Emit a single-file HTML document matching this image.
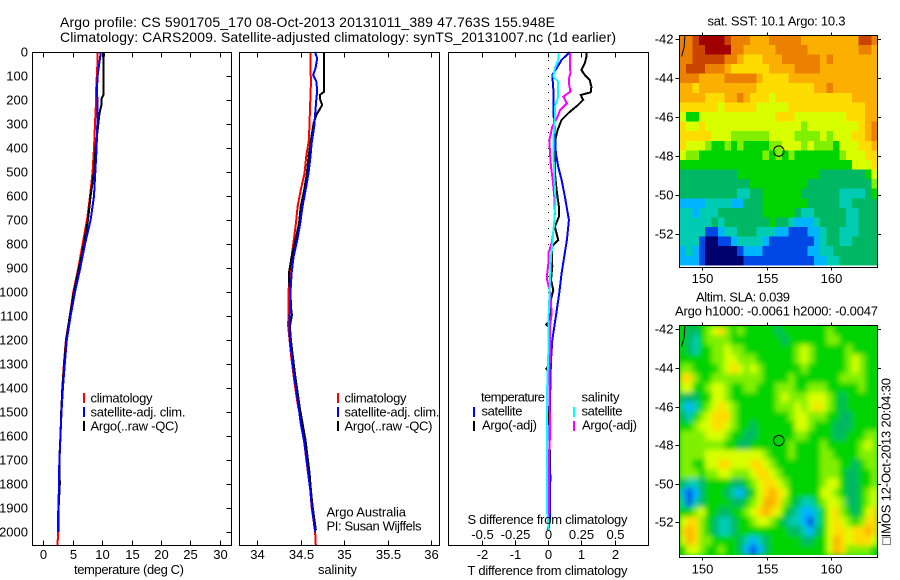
<!DOCTYPE html>
<html lang="en">
<head>
<meta charset="utf-8">
<title>Argo profile CS 5901705_170</title>
<style>
html,body{margin:0;padding:0;background:#fff;}
svg{display:block;}
text{font-family:"Liberation Sans",sans-serif;font-size:13px;fill:#000;}
.axis{fill:none;stroke:#000;stroke-width:1;shape-rendering:crispEdges;}
.tick{stroke:#000;stroke-width:1;shape-rendering:crispEdges;}
.line{fill:none;stroke-width:2;shape-rendering:crispEdges;stroke-linejoin:miter;}
.key{stroke-width:2;shape-rendering:crispEdges;}
</style>
</head>
<body>
<svg id="fig" xmlns="http://www.w3.org/2000/svg" width="900" height="580" viewBox="0 0 900 580">
  <rect x="0" y="0" width="900" height="580" fill="#fff"/>
  <defs>
    <clipPath id="clip-sst"><rect x="679.5" y="35.5" width="198" height="230"/></clipPath>
    <clipPath id="clip-sla"><rect x="679.5" y="326" width="198" height="229"/></clipPath>
    <filter id="smooth" x="-5%" y="-5%" width="110%" height="110%"><feGaussianBlur stdDeviation="2.6"/></filter>
  </defs>

  <text x="60" y="27" textLength="495" lengthAdjust="spacing" style="font-size:14px">Argo profile: CS 5901705_170 08-Oct-2013 20131011_389 47.763S 155.948E</text>
  <text x="60" y="42" textLength="556" lengthAdjust="spacing" style="font-size:14px">Climatology: CARS2009. Satellite-adjusted climatology: synTS_20131007.nc (1d earlier)</text>

  <g id="maps"></g>
  <g id="profiles"></g>
  <g id="axes"></g>

  <text x="74" y="574" textLength="110" lengthAdjust="spacing">temperature (deg C)</text>
  <text x="318" y="574" textLength="39" lengthAdjust="spacing">salinity</text>
  <text x="467.5" y="575" textLength="160" lengthAdjust="spacing">T difference from climatology</text>
  <text x="467.5" y="524" textLength="160" lengthAdjust="spacing">S difference from climatology</text>

  <g>
    <line class="key" x1="84" y1="393" x2="84" y2="403" stroke="#f00"/>
    <line class="key" x1="84" y1="407" x2="84" y2="417" stroke="#00f"/>
    <line class="key" x1="84" y1="421" x2="84" y2="431" stroke="#000"/>
    <text x="90.5" y="402.5" textLength="62" lengthAdjust="spacing">climatology</text>
    <text x="90.5" y="416.5" textLength="95" lengthAdjust="spacing">satellite-adj. clim.</text>
    <text x="90.5" y="430.5" textLength="88" lengthAdjust="spacing">Argo(..raw -QC)</text>
  </g>
  <g>
    <line class="key" x1="338" y1="393" x2="338" y2="403" stroke="#f00"/>
    <line class="key" x1="338" y1="407" x2="338" y2="417" stroke="#00f"/>
    <line class="key" x1="338" y1="421" x2="338" y2="431" stroke="#000"/>
    <text x="344.5" y="402.5" textLength="62" lengthAdjust="spacing">climatology</text>
    <text x="344.5" y="416.5" textLength="95" lengthAdjust="spacing">satellite-adj. clim.</text>
    <text x="344.5" y="430.5" textLength="88" lengthAdjust="spacing">Argo(..raw -QC)</text>
    <text x="326.5" y="516.5" textLength="79.5" lengthAdjust="spacing">Argo Australia</text>
    <text x="326.5" y="530.5" textLength="95" lengthAdjust="spacing">PI: Susan Wijffels</text>
  </g>
  <g>
    <text x="481" y="401.5" textLength="64" lengthAdjust="spacing">temperature</text>
    <text x="481.5" y="415.5" textLength="41" lengthAdjust="spacing">satellite</text>
    <text x="482" y="429.5" textLength="55" lengthAdjust="spacing">Argo(-adj)</text>
    <line class="key" x1="474" y1="407" x2="474" y2="417" stroke="#00f"/>
    <line class="key" x1="474" y1="421" x2="474" y2="431" stroke="#000"/>
    <text x="581.5" y="401.5" textLength="38" lengthAdjust="spacing">salinity</text>
    <text x="581.5" y="415.5" textLength="41" lengthAdjust="spacing">satellite</text>
    <text x="582" y="429.5" textLength="55" lengthAdjust="spacing">Argo(-adj)</text>
    <line class="key" x1="574" y1="407" x2="574" y2="417" stroke="#0ff"/>
    <line class="key" x1="574" y1="421" x2="574" y2="431" stroke="#f0f"/>
  </g>

  <text x="707.5" y="25.5" textLength="138" lengthAdjust="spacing">sat. SST: 10.1 Argo: 10.3</text>
  <text x="696" y="301.5" textLength="94" lengthAdjust="spacing">Altim. SLA: 0.039</text>
  <text x="675" y="315.5" textLength="203" lengthAdjust="spacing">Argo h1000: -0.0061 h2000: -0.0047</text>
  <text transform="translate(890.5,545) rotate(-90)" x="0" y="0" textLength="167" lengthAdjust="spacing">&#9633;IMOS 12-Oct-2013 20:04:30</text>
</svg>

<script>
// ---------- Profile data ----------
const tempDepths = [0,25,50,100,150,180,195,220,245,270,300,400,500,600,700,800,900,1000,1100,1200,1300,1400,1500,1600,1700,1800,1900,2000,2054];
const tempClim = [9.24,9.22,9.2,9.1,9.0,8.98,8.96,8.95,8.9,8.85,8.79,8.62,8.39,7.94,7.43,6.69,5.95,5.1,4.5,3.85,3.5,3.23,3.06,2.9,2.72,2.7,2.55,2.5,2.44];
const tempSat = [9.8,9.65,9.5,9.24,9.13,9.15,9.2,9.24,9.22,9.2,9.18,9.07,8.84,8.62,8.05,7.09,6.29,5.39,4.65,4.0,3.65,3.33,3.1,2.92,2.72,2.68,2.55,2.48,null];
const tempArgo = [10.37,10.26,10.22,10.2,10.2,10.2,9.9,9.9,9.64,9.47,9.35,8.9,8.62,8.05,7.6,6.9,6.07,5.2,4.5,3.9,3.55,3.25,3.05,2.92,2.75,2.8,2.6,2.55,null];

const salClimDepths = [0,131,367,436,506,575,644,714,783,853,922,992,1144,1269,1339,1408,1478,1547,1617,1686,1756,1825,1894,1999,2054];
const salClim = [34.61,34.617,34.594,34.563,34.544,34.5,34.464,34.444,34.42,34.395,34.375,34.36,34.356,34.39,34.415,34.44,34.47,34.52,34.54,34.56,34.585,34.61,34.625,34.665,34.674];
const salSatDepths = [0,26,68,96,124,165,193,256,311,381,436,506,575,644,714,783,853,922,992,1144,1200,1269,1339,1408,1478,1547,1617,1686,1756,1825,1894,1999];
const salSat = [34.663,34.69,34.67,34.644,34.68,34.69,34.68,34.667,34.655,34.625,34.613,34.59,34.556,34.52,34.494,34.46,34.418,34.395,34.383,34.368,34.375,34.398,34.42,34.448,34.475,34.5,34.536,34.563,34.586,34.61,34.628,34.667];
const salArgoDepths = [0,165,179,200,221,262,297,367,436,506,575,644,714,783,853,922,964,1006,1061,1096,1144,1200,1339,1478,1617,1756,1825,1894,1992];
const salArgo = [34.77,34.77,34.72,34.725,34.747,34.68,34.648,34.617,34.59,34.57,34.54,34.5,34.48,34.44,34.395,34.364,34.368,34.383,34.387,34.398,34.375,34.387,34.433,34.487,34.555,34.602,34.617,34.637,34.675];

const diffTempSatDepths = [0,33,68,96,172,242,311,422,478,533,603,700,783,853,922,1006,1089,1144,1200,1283,1394,1500,1600,1800,1950,1992];
const diffTempSat = [0.65,0.4,0.25,0.12,0.16,0.15,0.18,0.23,0.3,0.4,0.5,0.62,0.56,0.48,0.4,0.33,0.24,0.18,0.12,0.08,0.06,0.05,0.03,0.05,0.05,-0.02];
const diffTempArgoDepths = [0,20,47,75,96,117,144,168,179,200,221,249,283,325,360,422,505,575,644,686,728,783,811,894,950,992,1047,1125,1135,1145,1310,1320,1330,1360,1400,1500,1770,1900,1990];
const diffTempArgo = [1.15,1.15,1.1,1.0,1.1,1.25,1.3,1.28,0.98,1.05,0.9,0.65,0.4,0.28,0.22,0.2,0.2,0.25,0.32,0.32,0.2,0.3,0.1,0.12,0.08,0.15,0.05,0.02,-0.06,0,0,-0.06,0,0.06,0.05,0.02,0.06,0.05,0.02];
const diffSalArgoDepths = [0,89,103,131,165,186,214,242,269,311,367,422,478,533,603,672,742,797,839,867,922,950,1006,1089,1144,1256,1353,1603,1672,1811,1950,1992];
const diffSalArgo = [0.163,0.166,0.158,0.156,0.166,0.113,0.141,0.088,0.07,0.03,0.008,0.013,0.02,0.033,0.045,0.05,0.04,0.025,0,0.003,-0.008,-0.008,0.015,0.025,0.013,0.013,0.008,0.013,0.005,0.005,0.003,-0.002];
const diffSalSatDepths = [0,33,68,103,124,186,228,269,367,506,617,700,783,853,922,1061,1144,1256,1394,1672,1922,1992];
const diffSalSat = [0.08,0.075,0.05,0.038,0.075,0.075,0.05,0.05,0.038,0.043,0.055,0.045,0.033,0.02,0.015,0.005,0,0,-0.008,-0.01,-0.008,0.005];

// ---------- Tick labels ----------
const depthTicks = [0,100,200,300,400,500,600,700,800,900,1000,1100,1200,1300,1400,1500,1600,1700,1800,1900,2000];
const tempTicks = [0,5,10,15,20,25,30];
const salTicks = [34,34.5,35,35.5,36];
const diffTTicks = [-2,-1,0,1,2];
const diffSTicks = [-0.5,-0.25,0,0.25,0.5];
const lonTicks = [150,155,160];
const latTicks = [-42,-44,-46,-48,-50,-52];

// ---------- Float position and coast ----------
const floatLon = 155.948;
const floatLat = -47.763;
const coastLon = [148.7,148.65,148.45];
const coastLat = [-41.8,-42.4,-42.9];

// ---------- Satellite SST map, colour class per cell (north to south) ----------
const sstGrid = [
[10,10,11,12,12,12,12,11,10,10,10,9,9,9,10,10,10,10,10,9,9,9,9,9,9,9,9,9,11,11,10],
[10,10,11,11,12,12,12,12,10,10,9,9,9,9,9,10,10,10,10,10,9,9,9,9,9,9,9,9,10,10,9],
[10,10,11,11,11,11,11,10,10,9,8,8,8,9,9,9,10,10,10,10,10,10,9,10,9,9,9,9,9,9,9],
[10,11,11,11,10,10,10,9,8,8,8,8,8,8,9,9,9,9,10,10,10,10,9,9,9,9,9,9,9,9,9],
[10,10,10,9,9,9,9,10,10,10,10,10,9,8,8,8,8,9,9,9,9,9,9,9,9,9,9,9,9,9,9],
[9,9,8,9,9,9,9,9,9,9,9,9,8,8,8,8,8,8,8,8,8,9,9,10,9,9,9,9,9,9,9],
[9,9,9,9,8,8,8,9,9,10,9,8,8,8,7,8,8,8,8,8,8,8,8,8,8,8,8,9,9,9,9],
[8,8,8,8,8,8,7,8,8,8,8,8,7,7,7,7,7,8,8,8,8,8,8,8,8,8,8,8,8,9,9],
[7,5,5,7,7,7,7,7,7,7,7,7,7,7,7,8,8,8,7,7,7,7,7,7,7,7,8,8,8,9,9],
[8,7,7,8,7,7,7,7,7,7,7,7,7,7,7,7,7,7,7,6,7,7,7,7,7,7,7,7,8,9,10],
[8,8,8,8,8,7,7,7,6,6,6,6,6,6,7,7,7,7,6,6,6,6,7,6,7,7,7,8,8,9,10],
[8,7,7,7,6,5,5,6,5,6,5,5,5,5,6,6,7,7,7,6,7,6,6,6,5,7,7,7,8,8,9],
[7,6,6,5,5,5,5,5,5,5,5,5,5,6,5,6,5,6,5,5,5,5,5,5,5,6,7,7,7,8,8],
[5,5,5,5,5,5,5,5,5,5,5,5,5,5,5,5,5,5,5,5,5,5,5,5,5,5,5,7,7,7,8],
[4,4,4,4,4,4,4,4,4,5,5,5,5,5,5,5,5,5,5,5,5,5,4,4,4,4,4,4,4,5,7],
[4,4,4,4,4,4,4,4,4,4,4,5,5,5,5,5,5,5,5,5,4,4,4,4,4,4,4,4,4,4,6],
[4,4,4,4,4,4,4,4,4,3,3,4,4,5,5,5,5,5,5,4,4,4,4,4,4,3,3,3,3,4,5],
[2,2,2,2,3,3,3,3,2,2,4,4,4,5,5,5,5,5,5,5,4,4,4,4,4,3,3,4,4,4,4],
[3,3,2,3,3,3,4,4,4,4,4,4,4,5,5,5,5,5,4,3,3,4,4,4,4,4,3,3,4,4,4],
[3,3,3,3,3,4,3,4,4,4,4,4,4,4,5,4,4,3,2,2,2,3,4,4,4,4,3,3,4,4,4],
[3,3,3,3,1,1,2,3,3,4,4,4,3,3,3,2,2,1,1,1,2,2,3,4,4,3,3,3,4,4,4],
[3,3,3,1,0,0,1,1,2,3,3,3,3,2,1,1,1,1,1,1,1,2,3,4,4,3,3,4,4,4,4],
[2,3,2,1,0,0,0,0,0,1,2,2,2,1,1,1,1,1,1,1,2,2,3,3,4,4,4,4,4,4,4],
[2,2,2,1,0,0,0,0,0,0,1,1,1,1,1,1,1,1,1,1,1,2,2,3,3,4,4,4,4,4,4]
];

// ---------- Altimetry SLA map, colour class per cell (north to south) ----------
const slaGrid = [
[5,4,4,5,6,7,8,6,5,6,5,5,5,5,5,4,5,5,5,5,5,5,5,6,5,5,5,5,5,5,5],
[5,4,3,5,6,6,6,6,5,5,5,5,5,5,5,5,4,5,5,5,5,5,5,6,6,5,5,5,5,5,5],
[5,4,3,5,5,6,6,7,6,6,5,5,5,5,5,5,5,5,6,7,6,5,5,5,5,5,6,5,5,5,5],
[5,5,5,5,5,6,6,7,7,6,6,6,5,5,5,5,5,5,6,7,6,5,5,5,5,5,6,7,6,5,5],
[6,6,5,5,5,5,6,7,8,7,6,7,6,5,5,5,5,5,5,6,5,5,5,5,5,5,6,7,6,5,5],
[8,8,6,5,5,6,6,6,6,6,6,6,6,5,5,5,5,6,5,5,5,5,5,5,5,6,6,6,6,5,5],
[7,7,5,5,6,7,7,6,5,5,6,6,5,5,5,6,6,6,5,5,6,6,6,5,5,5,5,5,6,5,5],
[4,4,4,5,5,7,7,6,5,5,5,5,5,5,5,6,7,6,6,6,7,7,7,6,5,4,5,5,5,5,5],
[3,2,3,5,6,7,8,7,6,5,5,5,5,5,5,6,6,6,7,6,7,8,7,6,5,4,5,5,5,5,5],
[4,3,5,6,7,8,8,8,6,5,5,5,5,5,5,5,5,6,7,7,6,6,6,5,5,4,4,5,5,5,5],
[5,5,6,7,7,8,8,7,6,5,5,4,5,5,5,5,5,5,7,7,6,5,5,5,4,4,4,5,5,5,5],
[6,6,6,6,7,7,7,6,5,5,4,4,5,5,5,5,5,5,6,6,5,5,5,5,4,4,5,5,5,6,6],
[6,6,6,6,6,6,6,5,5,4,4,5,5,5,5,5,5,6,5,5,5,5,6,5,5,5,5,5,6,7,6],
[6,6,6,6,7,7,7,7,7,7,7,7,7,6,5,5,5,6,5,5,5,5,6,6,5,5,5,5,6,6,6],
[6,6,5,5,7,7,8,8,7,7,7,8,8,7,6,5,5,5,5,5,5,5,6,6,6,5,5,4,5,6,6],
[6,6,6,5,6,6,7,7,6,6,6,7,8,8,7,6,5,5,5,5,5,5,6,6,6,5,4,4,5,5,6],
[4,3,3,4,5,5,5,5,4,4,5,6,7,8,8,7,6,5,5,5,5,5,6,7,7,5,4,4,5,5,6],
[2,1,2,4,5,5,5,4,3,2,4,5,7,8,9,8,7,5,5,5,5,5,7,7,6,5,4,4,5,6,7],
[3,1,3,4,5,5,5,5,4,4,5,6,7,9,9,8,6,5,4,3,3,5,6,7,7,6,4,4,5,6,7],
[5,5,6,7,5,5,4,4,5,5,6,7,8,9,8,7,5,4,3,2,2,3,5,7,8,6,5,4,5,7,8],
[7,8,8,6,5,4,3,3,4,5,5,6,7,7,6,5,4,3,3,2,1,3,5,7,8,7,6,5,6,8,8],
[8,9,8,6,5,4,3,3,4,5,5,5,5,5,5,5,5,4,4,3,2,4,5,7,8,8,7,8,8,9,8],
[7,9,8,6,6,5,5,5,5,4,3,2,3,4,5,5,5,5,5,4,4,5,5,7,9,8,7,8,8,8,7],
[5,7,7,6,5,5,6,5,5,4,2,1,2,4,5,5,5,5,5,5,5,5,5,7,9,8,6,6,6,6,5]
];

// ---------- Axis functions ----------
const NS = 'http://www.w3.org/2000/svg';
function yDepth(d){ return 52 + 0.24 * d; }
function xTemp(v){ return 43.3 + 5.88 * v; }
function xSal(v){ return 257.3 + 86.85 * (v - 34); }
function xDiffT(v){ return 548.3 + 33.15 * v; }
function xDiffS(v){ return xDiffT(v * 4); }
function xLon(v){ return 701.7 + 12.96 * (v - 150); }
function ySst(v){ return 39 + 19.45 * (-42 - v); }
function ySla(v){ return 329.3 + 19.3 * (-42 - v); }

function make(tag, attrs, parent){
  const el = document.createElementNS(NS, tag);
  for (const k in attrs) el.setAttribute(k, attrs[k]);
  parent.appendChild(el);
  return el;
}

const axesGroup = document.getElementById('axes');
const profileGroup = document.getElementById('profiles');
const mapGroup = document.getElementById('maps');

// ---------- Profile lines ----------
function drawProfile(depths, values, xf, color, name, width){
  const pts = [];
  for (let i = 0; i < depths.length; i++) {
    if (values[i] === null || values[i] === undefined) continue;
    pts.push(xf(values[i]).toFixed(1) + ',' + yDepth(depths[i]).toFixed(1));
  }
  const el = make('polyline', {class:'line', points:pts.join(' '), stroke:color, 'stroke-width':width}, profileGroup);
  
  
}
drawProfile(tempDepths, tempClim, xTemp, '#f00', 'temperature-climatology-line', 3.2);
drawProfile(tempDepths, tempArgo, xTemp, '#000', 'temperature-argo-line', 3);
drawProfile(tempDepths, tempSat, xTemp, '#00f', 'temperature-satellite-line', 3.2);

drawProfile(salClimDepths, salClim, xSal, '#f00', 'salinity-climatology-line', 3.2);
drawProfile(salArgoDepths, salArgo, xSal, '#000', 'salinity-argo-line', 3);
drawProfile(salSatDepths, salSat, xSal, '#00f', 'salinity-satellite-line', 3);

const zero = make('line', {x1:xDiffT(0), y1:yDepth(0), x2:xDiffT(0), y2:yDepth(1150), stroke:'#000', 'stroke-width':1, 'stroke-dasharray':'1 7', 'shape-rendering':'crispEdges'}, profileGroup);


drawProfile(diffTempArgoDepths, diffTempArgo, xDiffT, '#000', 't-difference-argo-line', 2.6);
drawProfile(diffTempSatDepths, diffTempSat, xDiffT, '#00f', 't-difference-satellite-line', 3);
drawProfile(diffSalArgoDepths, diffSalArgo, xDiffS, '#f0f', 's-difference-argo-line', 3);
drawProfile(diffSalSatDepths, diffSalSat, xDiffS, '#0ff', 's-difference-satellite-line', 3);

// ---------- Axes ----------
function drawFrame(x1, x2, y1, y2, name){
  const r = make('rect', {class:'axis', x:x1, y:y1, width:x2 - x1, height:y2 - y1}, axesGroup);
  
  
}
function drawTick(x1, y1, x2, y2, name){
  const t = make('line', {class:'tick', x1:x1, y1:y1, x2:x2, y2:y2}, axesGroup);
  
  
}
function drawLabel(x, y, str, anchor, name){
  const t = make('text', {x:x, y:y, 'text-anchor':anchor}, axesGroup);
  t.textContent = str;
  
  
}
const pTop = 52.5, pBottom = 545.5;
drawFrame(32.5, 231.5, pTop, pBottom, 'temperature-panel-frame');
drawFrame(239.5, 439.5, pTop, pBottom, 'salinity-panel-frame');
drawFrame(448.5, 648.5, pTop, pBottom, 'difference-panel-frame');

depthTicks.forEach(function(d){
  const y = Math.floor(yDepth(d)) + 0.5;
  if (d > 0) drawTick(226.5, y, 231.5, y, 'depth-tick');
  drawLabel(28, y + 4, String(d), 'end', 'depth-tick-label');
});
tempTicks.forEach(function(v){
  const x = Math.round(xTemp(v)) + 0.5;
  drawTick(x, pTop, x, pTop + 5, 'temperature-tick-top');
  drawTick(x, pBottom - 5, x, pBottom, 'temperature-tick-bottom');
  drawLabel(x, 559, String(v), 'middle', 'temperature-tick-label');
});
salTicks.forEach(function(v){
  const x = Math.round(xSal(v)) + 0.5;
  drawTick(x, pTop, x, pTop + 5, 'salinity-tick-top');
  drawTick(x, pBottom - 5, x, pBottom, 'salinity-tick-bottom');
  drawLabel(x, 559, String(v), 'middle', 'salinity-tick-label');
});
diffTTicks.forEach(function(v){
  const x = Math.round(xDiffT(v)) + 0.5;
  drawTick(x, pTop, x, pTop + 5, 't-difference-tick-top');
  drawTick(x, pBottom - 5, x, pBottom, 't-difference-tick-bottom');
  drawLabel(x, 559, String(v), 'middle', 't-difference-tick-label');
});
diffSTicks.forEach(function(v){
  const x = Math.round(xDiffS(v)) + 0.5;
  drawLabel(x, 539, String(v), 'middle', 's-difference-tick-label');
});

// ---------- Maps ----------
const palette = ['#00006e','#0048e6','#00b4ff','#00ccb4','#00b864','#00d400','#80f000','#d8ff00','#ffdc00','#fbb000','#ec8000','#c84400','#a00000'];
const lonStart = 148.3, lonStep = 15.28 / 31;

function drawMap(grid, yf, latStart, latStep, clipId, name, blur, frameTop, frameBottom){
  const wrap = make('g', {'clip-path':'url(#' + clipId + ')'}, mapGroup);
  
  
  const back = make('rect', {x:679, y:frameTop, width:199, height:frameBottom - frameTop, fill: blur ? palette[5] : palette[4]}, wrap);
  
  
  const cells = make('g', blur ? {filter:'url(#smooth)'} : {'shape-rendering':'crispEdges'}, wrap);
  
  
  grid.forEach(function(row, r){
    row.forEach(function(val, c){
      const x0 = xLon(lonStart + c * lonStep), x1 = xLon(lonStart + (c + 1) * lonStep);
      const y0 = yf(latStart - r * latStep), y1 = yf(latStart - (r + 1) * latStep);
      const idx = Math.max(0, Math.min(palette.length - 1, Math.round(val)));
      const cell = make('rect', {x:x0.toFixed(2), y:y0.toFixed(2), width:(x1 - x0 + 0.5).toFixed(2), height:(y1 - y0 + 0.5).toFixed(2), fill:palette[idx]}, cells);
      
      
    });
  });
  const coastPts = coastLon.map(function(lon, i){ return xLon(lon).toFixed(1) + ',' + yf(coastLat[i]).toFixed(1); }).join(' ');
  const coast = make('polyline', {points:coastPts, fill:'none', stroke:'#000', 'stroke-width':1}, wrap);
  
  
  const circle = make('circle', {cx:xLon(floatLon), cy:yf(floatLat), r:5.2, fill:'none', stroke:'#000', 'stroke-width':1}, wrap);
  
  
}
drawMap(sstGrid, ySst, -41.81, 11.83 / 24, 'clip-sst', 'sst-map', false, 35, 267);
drawMap(slaGrid, ySla, -41.81, 11.88 / 24, 'clip-sla', 'sla-map', true, 326, 557);

function drawMapAxes(top, bottom, yf, labelY, name){
  drawFrame(679.5, 877.5, top, bottom, name + '-frame');
  lonTicks.forEach(function(v){
    const x = Math.round(xLon(v)) + 0.5;
    drawTick(x, top - 3, x, top, name + '-lon-tick-top');
    drawTick(x, bottom, x, bottom + 3, name + '-lon-tick-bottom');
    drawLabel(x, labelY, String(v), 'middle', name + '-lon-label');
  });
  latTicks.forEach(function(v){
    const y = Math.round(yf(v)) + 0.5;
    drawTick(675.5, y, 679.5, y, name + '-lat-tick-left');
    drawTick(877.5, y, 881, y, name + '-lat-tick-right');
    drawLabel(673.5, y + 4, String(v), 'end', name + '-lat-label');
  });
}
drawMapAxes(35.5, 267.5, ySst, 283, 'sst-map');
drawMapAxes(325.5, 557.5, ySla, 573.5, 'sla-map');
</script>
</body>
</html>
